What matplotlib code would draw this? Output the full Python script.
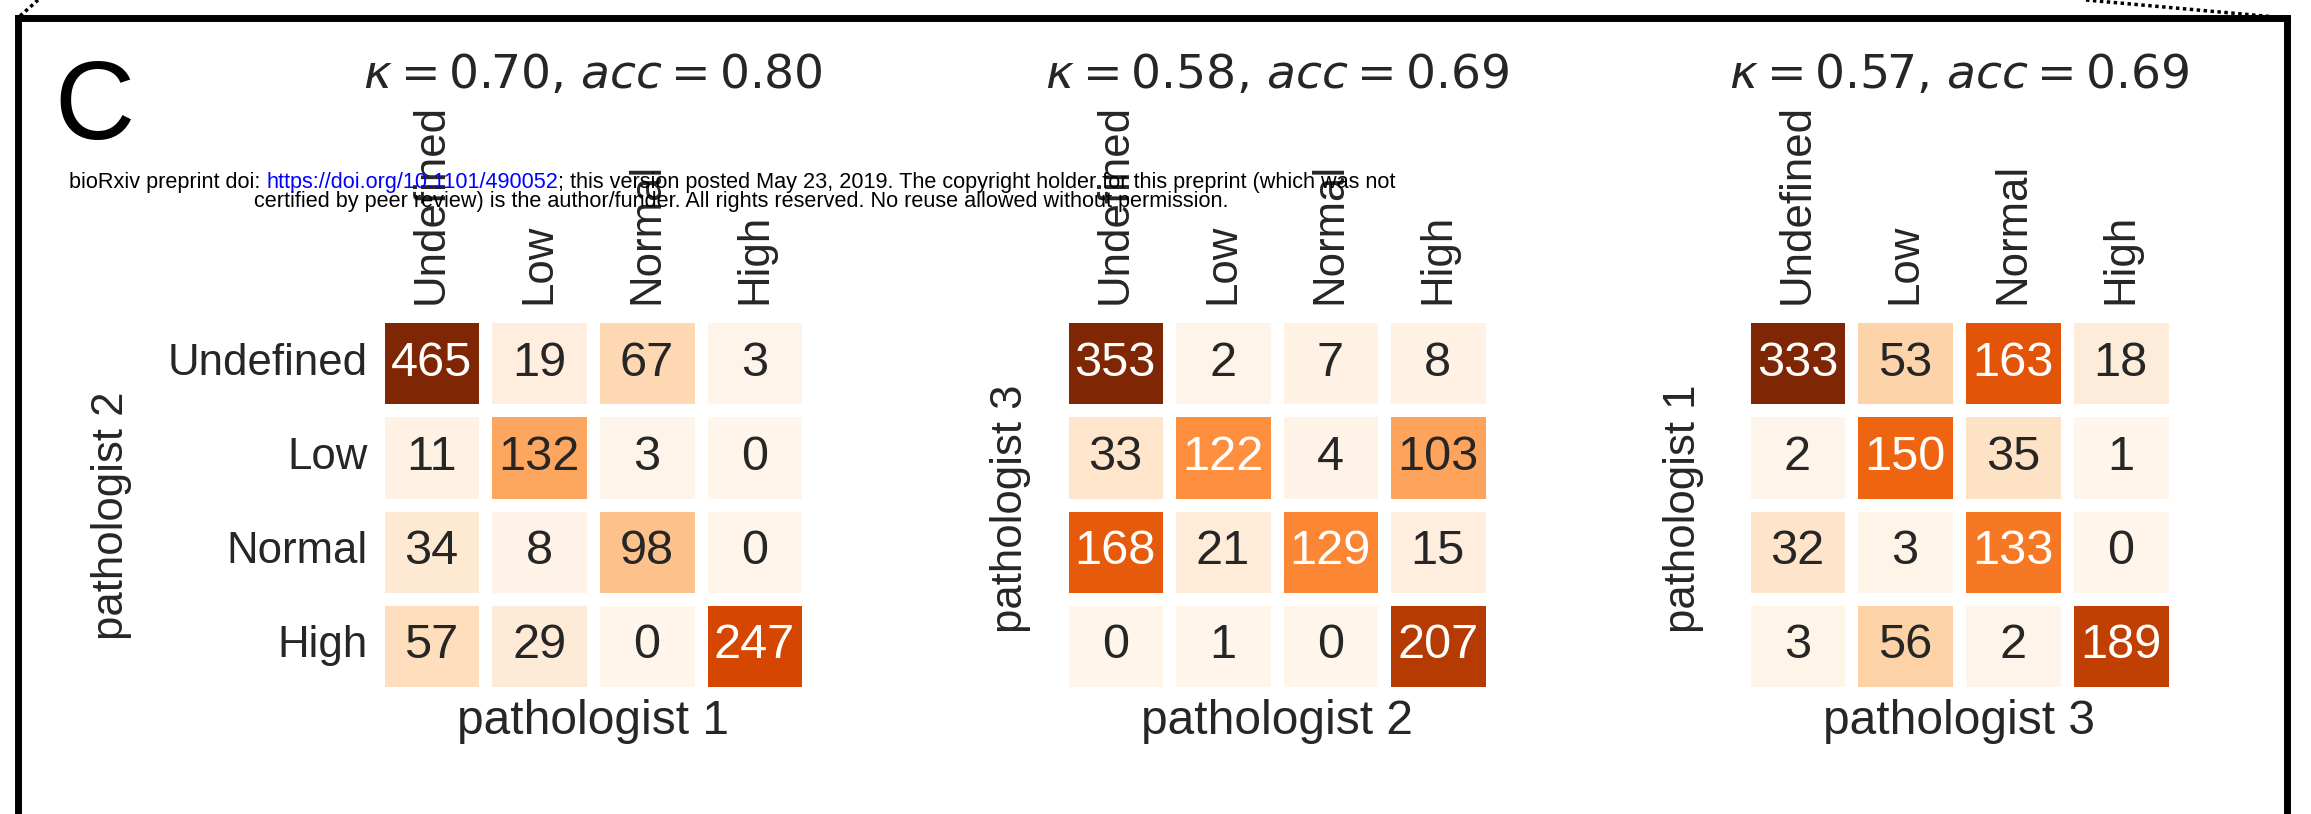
import numpy as np
import matplotlib.pyplot as plt
import seaborn as sns
from matplotlib.lines import Line2D

grades = ['Undefined', 'Low', 'Normal', 'High']

# confusion matrices, rows = pathologist on the y axis, cols = pathologist on the x axis
p2_vs_p1 = [[465, 19, 67, 3],
            [11, 132, 3, 0],
            [34, 8, 98, 0],
            [57, 29, 0, 247]]
p3_vs_p2 = [[353, 2, 7, 8],
            [33, 122, 4, 103],
            [168, 21, 129, 15],
            [0, 1, 0, 207]]
p1_vs_p3 = [[333, 53, 163, 18],
            [2, 150, 35, 1],
            [32, 3, 133, 0],
            [3, 56, 2, 189]]

kappas = [0.70, 0.58, 0.57]
accs = [0.80, 0.69, 0.69]
x_names = ['pathologist 1', 'pathologist 2', 'pathologist 3']
y_names = ['pathologist 2', 'pathologist 3', 'pathologist 1']

sns.set_style('white')
plt.rcParams['font.family'] = ['Liberation Sans', 'DejaVu Sans']

W, H = 2311, 814
fig = plt.figure(figsize=(W / 100, H / 100), dpi=100)


def px_axes(x0, y0, x1, y1):
    return fig.add_axes([x0 / W, 1 - y1 / H, (x1 - x0) / W, (y1 - y0) / H])


axes = [px_axes(377.5, 316.5, 808.5, 692.5),
        px_axes(1061.5, 316.5, 1491.5, 692.5),
        px_axes(1743.5, 316.5, 2174.5, 692.5)]
ylabel_pos = [(-0.57, 0.47), (-0.07, 0.49), (-0.092, 0.49)]

for i, (ax, mat) in enumerate(zip(axes, [p2_vs_p1, p3_vs_p2, p1_vs_p3])):
    mat = np.array(mat)
    sns.heatmap(mat, ax=ax, cmap='Oranges', vmin=0, vmax=0.7 * mat.max(),
                annot=True, fmt='d', annot_kws={'fontsize': 35},
                linewidths=8, linecolor='white', cbar=False,
                xticklabels=grades, yticklabels=grades if i == 0 else False)
    ax.xaxis.tick_top()
    ax.tick_params(length=0, labelsize=31.5)
    ax.tick_params(axis='x', rotation=90, pad=9)
    ax.tick_params(axis='y', rotation=0, pad=7)
    ax.set_xlabel(x_names[i], fontsize=34.5, labelpad=5)
    ax.set_ylabel(y_names[i], fontsize=31.5)
    ax.yaxis.set_label_coords(*ylabel_pos[i])

    pos = ax.get_position()
    fig.text(pos.x0 + pos.width / 2, 1 - 88 / H,
             r'$\kappa = %.2f$, $acc = %.2f$' % (kappas[i], accs[i]),
             fontsize=34, family='DejaVu Sans', color='#262626',
             ha='center', va='baseline')

# panel letter
fig.text(54 / W, 1 - 139 / H, 'C', fontsize=80,
         family=['Liberation Sans Narrow', 'Liberation Sans'],
         color='black', va='baseline')

# preprint notice
r = fig.canvas.get_renderer()
fs = 15.6
x = 69
y1 = 1 - 188 / H
pieces = [('bioRxiv preprint doi:', 'black'),
          ('https://doi.org/10.1101/490052', '#0000ff'),
          ('; this version posted May 23, 2019. The copyright holder for this preprint (which was not', 'black')]
for k, (txt, col) in enumerate(pieces):
    t = fig.text(x / W, y1, txt, fontsize=fs, color=col, va='baseline', zorder=0)
    bb = t.get_window_extent(r)
    x = bb.x1 + (fs * 100 / 72 * 0.28 if k == 0 else 0)
fig.text(741 / W, 1 - 207 / H,
         'certified by peer review) is the author/funder. All rights reserved. No reuse allowed without permission.',
         fontsize=fs, color='black', ha='center', va='baseline', zorder=0)

# frame around the panel
frame = dict(color='black', lw=5, transform=fig.transFigure, solid_capstyle='projecting')
fig.add_artist(Line2D([18 / W, 18 / W], [0, 1 - 18 / H], **frame))
fig.add_artist(Line2D([18 / W, 2287 / W], [1 - 18 / H, 1 - 18 / H], **frame))
fig.add_artist(Line2D([2287 / W, 2287 / W], [0, 1 - 18 / H], **frame))

dots = dict(color='black', lw=2.5, ls=(0, (1, 1)), transform=fig.transFigure)
fig.add_artist(Line2D([20 / W, 38 / W], [1 - 16 / H, 1], **dots))
fig.add_artist(Line2D([2086 / W, 2287 / W], [1, 1 - 18 / H], **dots))

fig.savefig('out.png', dpi=100)
